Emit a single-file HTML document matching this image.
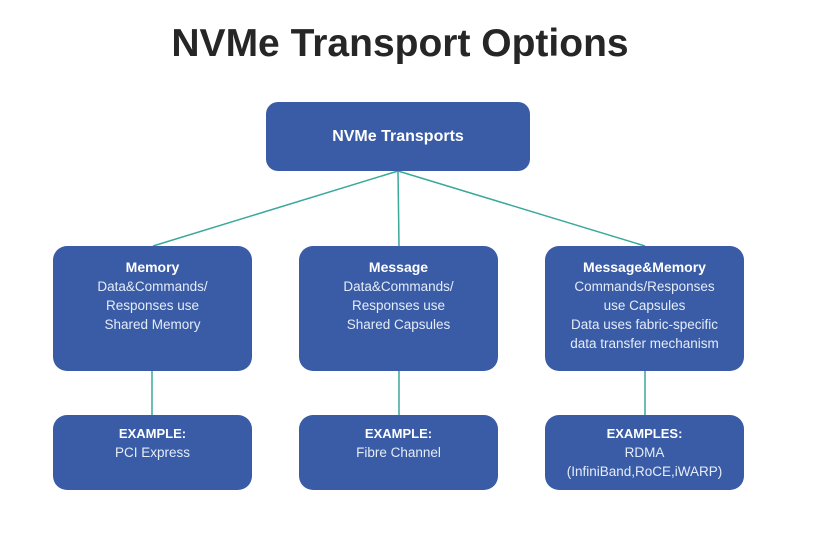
<!DOCTYPE html>
<html><head><style>
body{margin:0;width:837px;height:534px;background:#fff;position:relative;font-family:"Liberation Sans",sans-serif;overflow:hidden}
.t{position:absolute;left:0;width:800px;top:22px;text-align:center;font-size:39px;font-weight:bold;color:#262626}
.b{position:absolute;background:#3a5ca6;border-radius:14px;color:#e4ecf8;text-align:center;font-size:13.5px;line-height:19px;box-sizing:border-box}
.b b{color:#fff;font-size:14px}
</style></head><body>
<div class="t">NVMe Transport Options</div>
<svg width="837" height="534" style="position:absolute;left:0;top:0">
<g stroke="#3aa89a" stroke-width="1.5">
<line x1="398" y1="171" x2="153" y2="246"/>
<line x1="398" y1="171" x2="399" y2="246"/>
<line x1="398" y1="171" x2="645" y2="246"/>
<line x1="152" y1="371" x2="152" y2="415"/>
<line x1="399" y1="371" x2="399" y2="415"/>
<line x1="645" y1="371" x2="645" y2="415"/>
</g></svg>
<div class="b" style="left:266px;top:102px;width:264px;height:69px;padding-top:25px;border-radius:12px"><b style="font-size:16px">NVMe Transports</b></div>
<div class="b" style="left:53px;top:246px;width:199px;height:125px;padding-top:12px"><b>Memory</b><br>Data&amp;Commands/<br>Responses use<br>Shared Memory</div>
<div class="b" style="left:299px;top:246px;width:199px;height:125px;padding-top:12px"><b>Message</b><br>Data&amp;Commands/<br>Responses use<br>Shared Capsules</div>
<div class="b" style="left:545px;top:246px;width:199px;height:125px;padding-top:12px"><b>Message&amp;Memory</b><br>Commands/Responses<br>use Capsules<br>Data uses fabric-specific<br>data transfer mechanism</div>
<div class="b" style="left:53px;top:415px;width:199px;height:75px;padding-top:9px"><b style="font-size:13px">EXAMPLE:</b><br>PCI Express</div>
<div class="b" style="left:299px;top:415px;width:199px;height:75px;padding-top:9px"><b style="font-size:13px">EXAMPLE:</b><br>Fibre Channel</div>
<div class="b" style="left:545px;top:415px;width:199px;height:75px;padding-top:9px"><b style="font-size:13px">EXAMPLES:</b><br>RDMA<br>(InfiniBand,RoCE,iWARP)</div>
</body></html>
